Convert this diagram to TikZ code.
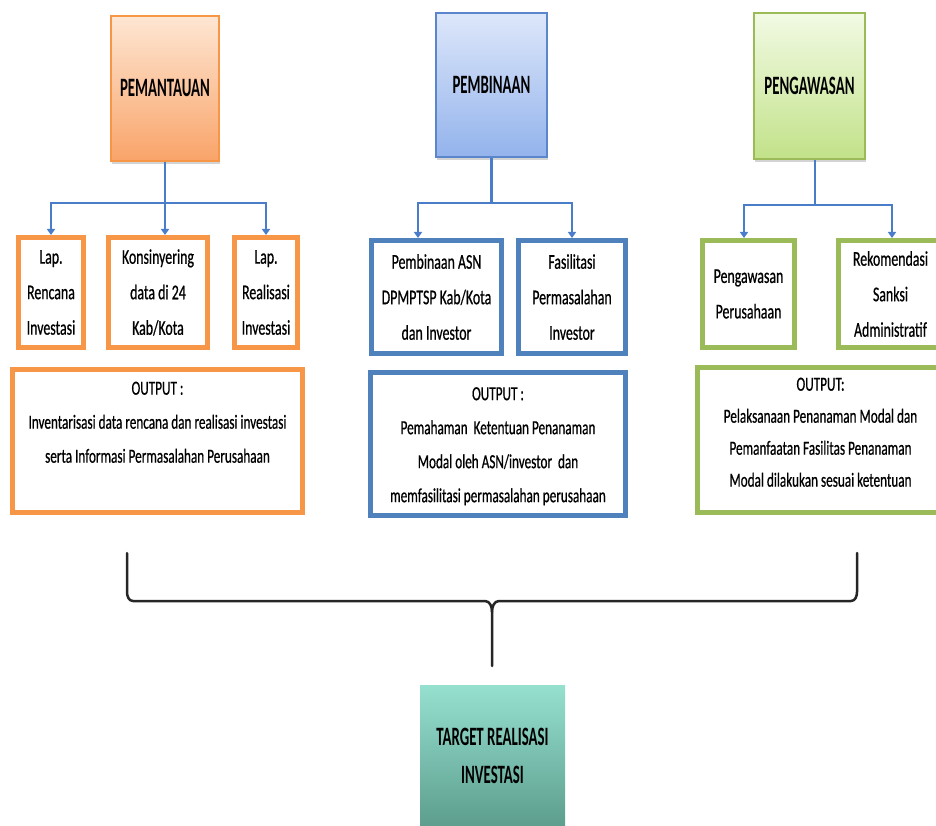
\documentclass[tikz,border=0pt]{standalone}
\usepackage{fontspec}
\setmainfont{Carlito}[FakeStretch=0.66, FakeBold=0.6]
\newfontfamily\titlefont{Carlito}[FakeStretch=0.56]
\usetikzlibrary{arrows.meta,shadows}
\definecolor{orgline}{HTML}{F79646}
\definecolor{orgtop}{HTML}{FEE6D3}
\definecolor{orgbot}{HTML}{F9A469}
\definecolor{bluline}{HTML}{4F81BD}
\definecolor{blutitle}{HTML}{5B86CB}
\definecolor{blutop}{HTML}{DDE7FA}
\definecolor{blubot}{HTML}{93B3EC}
\definecolor{grnline}{HTML}{9BBB59}
\definecolor{grntop}{HTML}{F2FAE4}
\definecolor{grnbot}{HTML}{C2E289}
\definecolor{conncol}{HTML}{4A7DC9}
\definecolor{tgttop}{HTML}{96E0D0}
\definecolor{tgtbot}{HTML}{5D9E8E}
\begin{document}
\begin{tikzpicture}[x=1pt,y=-1pt,
  title/.style={draw, line width=2pt, inner sep=0pt, align=center,
    font=\titlefont\bfseries\fontsize{26.5}{30}\selectfont,
    drop shadow={shadow xshift=1pt, shadow yshift=-3pt, opacity=0.35}},
  kid/.style={draw, line width=5pt, fill=white, inner sep=0pt, align=center,
    font=\fontsize{21}{35.5}\selectfont},
  outbox/.style={draw, line width=5pt, fill=white, inner sep=0pt},
  outtxt/.style={inner sep=0pt, align=center, anchor=north,
    font=\fontsize{20}{34}\selectfont},
  conn/.style={draw=conncol, line width=2.5pt},
  arr/.style={conn, -{Triangle[width=8pt,length=6pt]}},
  brace/.style={draw=black!85, line width=2.5pt, line cap=round, line join=round},
  target/.style={inner sep=0pt, align=center, top color=tgttop, bottom color=tgtbot,
    font=\titlefont\bfseries\fontsize{26.5}{38}\selectfont}
]
\useasboundingbox (0,0) rectangle (936,826);
\clip (0,0) rectangle (936,826);

% ---------- PEMANTAUAN ----------
\node[title, draw=orgline, top color=orgtop, bottom color=orgbot,
  minimum width=108, minimum height=145] (t1) at (165,88.5) {PEMANTAUAN};
\node[kid, draw=orgline, minimum width=65, minimum height=110] (c1) at (51,292.5) {Lap.\\Rencana\\Investasi};
\node[kid, draw=orgline, minimum width=99, minimum height=110] (c2) at (158,292.5) {Konsinyering\\data di 24\\Kab/Kota};
\node[kid, draw=orgline, minimum width=63, minimum height=110] (c3) at (266,292.5) {Lap.\\Realisasi\\Investasi};
\node[outbox, draw=orgline, minimum width=290, minimum height=143] (o1) at (157.5,441) {};
\node[outtxt] (ot1) at ([yshift=-14.5pt]o1.north) {OUTPUT :\\Inventarisasi data rencana dan realisasi investasi\\serta Informasi Permasalahan Perusahaan};

\draw[conn] (t1.south) -- ++(0,41) coordinate (j1);
\draw[arr] (j1) -| (c1.north);
\draw[arr] (j1) -- (j1 |- c2.north);
\draw[arr] (j1) -| (c3.north);

% ---------- PEMBINAAN ----------
\node[title, draw=blutitle, top color=blutop, bottom color=blubot,
  minimum width=111, minimum height=144] (t2) at (491.5,85) {PEMBINAAN};
\node[kid, draw=bluline, minimum width=130, minimum height=113] (b1) at (436.5,297) {Pembinaan ASN\\DPMPTSP Kab/Kota\\dan Investor};
\node[kid, draw=bluline, minimum width=107, minimum height=113] (b2) at (572,297) {Fasilitasi\\Permasalahan\\Investor};
\node[outbox, draw=bluline, minimum width=255, minimum height=143] (o2) at (498,444) {};
\node[outtxt] (ot2) at ([yshift=-17pt]o2.north) {OUTPUT :\\Pemahaman\ \ Ketentuan Penanaman\\Modal oleh ASN/investor\ \ dan\\memfasilitasi permasalahan perusahaan};

\draw[conn] (t2.south) -- ++(0,45) coordinate (j2);
\draw[arr] (j2) -| ([xshift=-18.5pt]b1.north);
\draw[arr] (j2) -| (b2.north);

% ---------- PENGAWASAN ----------
\node[title, draw=grnline, top color=grntop, bottom color=grnbot,
  minimum width=111, minimum height=146] (t3) at (809.5,86) {PENGAWASAN};
\node[kid, draw=grnline, minimum width=92, minimum height=107] (g1) at (748.5,294) {Pengawasan\\Perusahaan};
\node[kid, draw=grnline, minimum width=104, minimum height=107] (g2) at (890.5,294) {Rekomendasi\\Sanksi\\Administratif};
\node[outbox, draw=grnline, minimum width=246, minimum height=145] (o3) at (820.5,440) {};
\node[outtxt, font=\fontsize{20}{32}\selectfont] (ot3) at ([yshift=-12.5pt]o3.north) {OUTPUT:\\Pelaksanaan Penanaman Modal dan\\Pemanfaatan Fasilitas Penanaman\\Modal dilakukan sesuai ketentuan};

\draw[conn] ([xshift=5.5pt]t3.south) -- ++(0,45) coordinate (j3);
\draw[arr] (j3) -| ([xshift=-4.5pt]g1.north);
\draw[arr] (j3) -| ([xshift=1.5pt]g2.north);

% ---------- brace ----------
\coordinate (bl) at (127,553);
\coordinate (br) at (857,553);
\coordinate (bm) at (492,666);
\draw[brace] (bl) -- (127,592) to[out=-90,in=180] (133,601) -- (485,601) to[out=0,in=90] (492,612) -- (bm);
\draw[brace] (br) -- (857,592) to[out=-90,in=0] (851,601) -- (499,601) to[out=180,in=90] (492,612);

% ---------- target ----------
\node[target, minimum width=145, minimum height=141] (tg) at (492.5,755.5) {TARGET REALISASI\\INVESTASI};
\end{tikzpicture}
\end{document}
